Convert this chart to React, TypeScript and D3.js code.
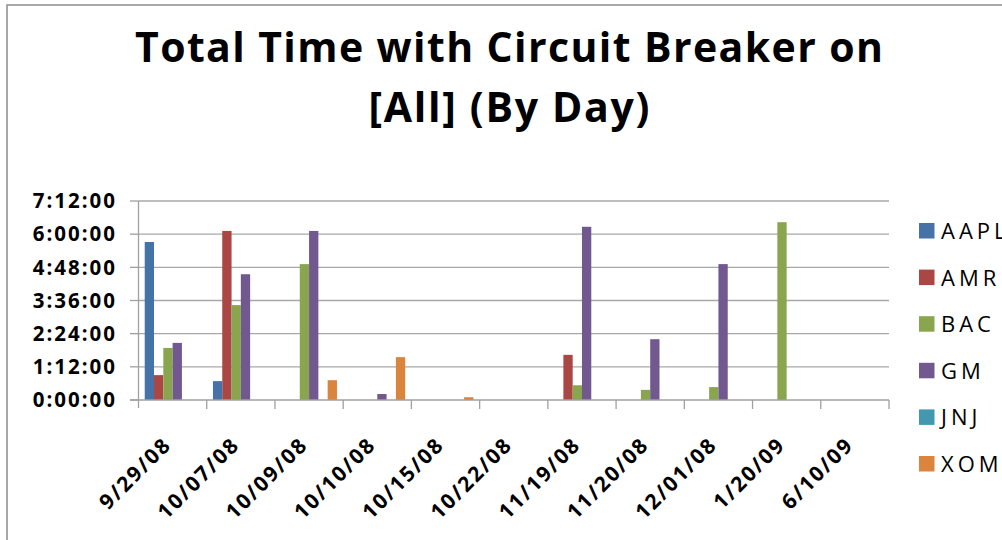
import React from "react";
import * as d3 from "d3";

const categories = ["9/29/08", "10/07/08", "10/09/08", "10/10/08", "10/15/08", "10/22/08", "11/19/08", "11/20/08", "12/01/08", "1/20/09", "6/10/09"];
const seriesNames = ["AAPL", "AMR", "BAC", "GM", "JNJ", "XOM"];
const seriesColors = ["#4572A7", "#AA4643", "#89A54E", "#71588F", "#4198AF", "#DB843D"];
// values in minutes
const aapl = [343, 41, 0, 0, 0, 0, 0, 0, 0, 0, 0];
const amr = [54, 367, 0, 0, 0, 0, 98, 0, 0, 0, 0];
const bac = [113, 206, 295, 0, 0, 0, 32, 22, 28, 386, 0];
const gm = [124, 273, 367, 13, 0, 0, 376, 132, 295, 0, 0];
const jnj = [0, 0, 0, 0, 0, 0, 0, 0, 0, 0, 0];
const xom = [0, 0, 43, 93, 6, 0, 0, 0, 0, 0, 0];
const seriesValues = [aapl, amr, bac, gm, jnj, xom];
const yTicks = [0, 72, 144, 216, 288, 360, 432];
const titleLines = ["Total Time with Circuit Breaker on", "[All] (By Day)"];

const fmt = (m: number) => {
  const h = Math.floor(m / 60);
  const mm = m % 60;
  return `${h}:${String(mm).padStart(2, "0")}:00`;
};

export default function App() {
  const x = d3.scaleBand<string>().domain(categories).range([138.5, 889]).padding(0);
  const xi = d3.scaleBand<string>().domain(seriesNames).range([0, x.bandwidth()]).paddingInner(0).paddingOuter(0.67);
  const y = d3.scaleLinear().domain([0, 432]).range([400, 201]);
  const font = "'Open Sans', 'DejaVu Sans', sans-serif";
  const left = 138.5;
  const right = 889;

  return (
    <svg width={1002} height={540} style={{ position: "absolute", left: 0, top: 0, background: "#fff" }} fontFamily={font}>
      <rect x={7} y={5} width={1200} height={700} fill="#fff" stroke="#8c8c8c" strokeWidth={1.5} />
      {/* title */}
      <text x={509} y={62} textAnchor="middle" fontSize={41} fontWeight="bold" textLength={748} lengthAdjust="spacing">{titleLines[0]}</text>
      <text x={509} y={122} textAnchor="middle" fontSize={41} fontWeight="bold" textLength={281} lengthAdjust="spacing">{titleLines[1]}</text>
      {/* gridlines */}
      {yTicks.filter((t) => t > 0).map((t) => (
        <line key={"g" + t} x1={left} x2={right} y1={y(t)} y2={y(t)} stroke="#a8a8a8" strokeWidth={1.3} />
      ))}
      {/* y axis */}
      <line x1={left} x2={left} y1={y(432)} y2={408} stroke="#a0a0a0" strokeWidth={1.3} />
      {yTicks.map((t) => (
        <g key={"yt" + t}>
          <line x1={130} x2={left} y1={y(t)} y2={y(t)} stroke="#a0a0a0" strokeWidth={1.3} />
          <text x={117} y={y(t)} dy="0.35em" textAnchor="end" fontSize={20.5} fontWeight="bold" letterSpacing={2}>{fmt(t)}</text>
        </g>
      ))}
      {/* bars */}
      {seriesValues.map((vals, si) => (
        <g key={seriesNames[si]} fill={seriesColors[si]}>
          {vals.map((v, ci) =>
            v > 0 ? (
              <rect key={ci} x={(x(categories[ci]) as number) + (xi(seriesNames[si]) as number)} width={xi.bandwidth()} y={y(v)} height={y(0) - y(v)} />
            ) : null
          )}
        </g>
      ))}
      {/* x axis */}
      <line x1={130} x2={right} y1={y(0)} y2={y(0)} stroke="#a0a0a0" strokeWidth={1.3} />
      {categories.map((c, i) => (
        <line key={"xt" + i} x1={(x(c) as number) + x.bandwidth()} x2={(x(c) as number) + x.bandwidth()} y1={y(0)} y2={409} stroke="#a0a0a0" strokeWidth={1.3} />
      ))}
      {categories.map((c) => {
        const cx = (x(c) as number) + x.bandwidth() / 2;
        const px = cx;
        const py = 446;
        return (
          <text key={"xl" + c} x={px} y={py} textAnchor="end" fontSize={21} fontWeight="bold" letterSpacing={2} transform={`rotate(-45 ${px} ${py})`}>{c}</text>
        );
      })}
      {/* legend */}
      {seriesNames.map((s, i) => {
        const ly = 223 + i * 46.6;
        return (
          <g key={"lg" + s}>
            <rect x={919} y={ly} width={15.5} height={15.5} fill={seriesColors[i]} />
            <text x={941} y={ly + 8} dy="0.36em" fontSize={22} letterSpacing={4}>{s}</text>
          </g>
        );
      })}
    </svg>
  );
}
